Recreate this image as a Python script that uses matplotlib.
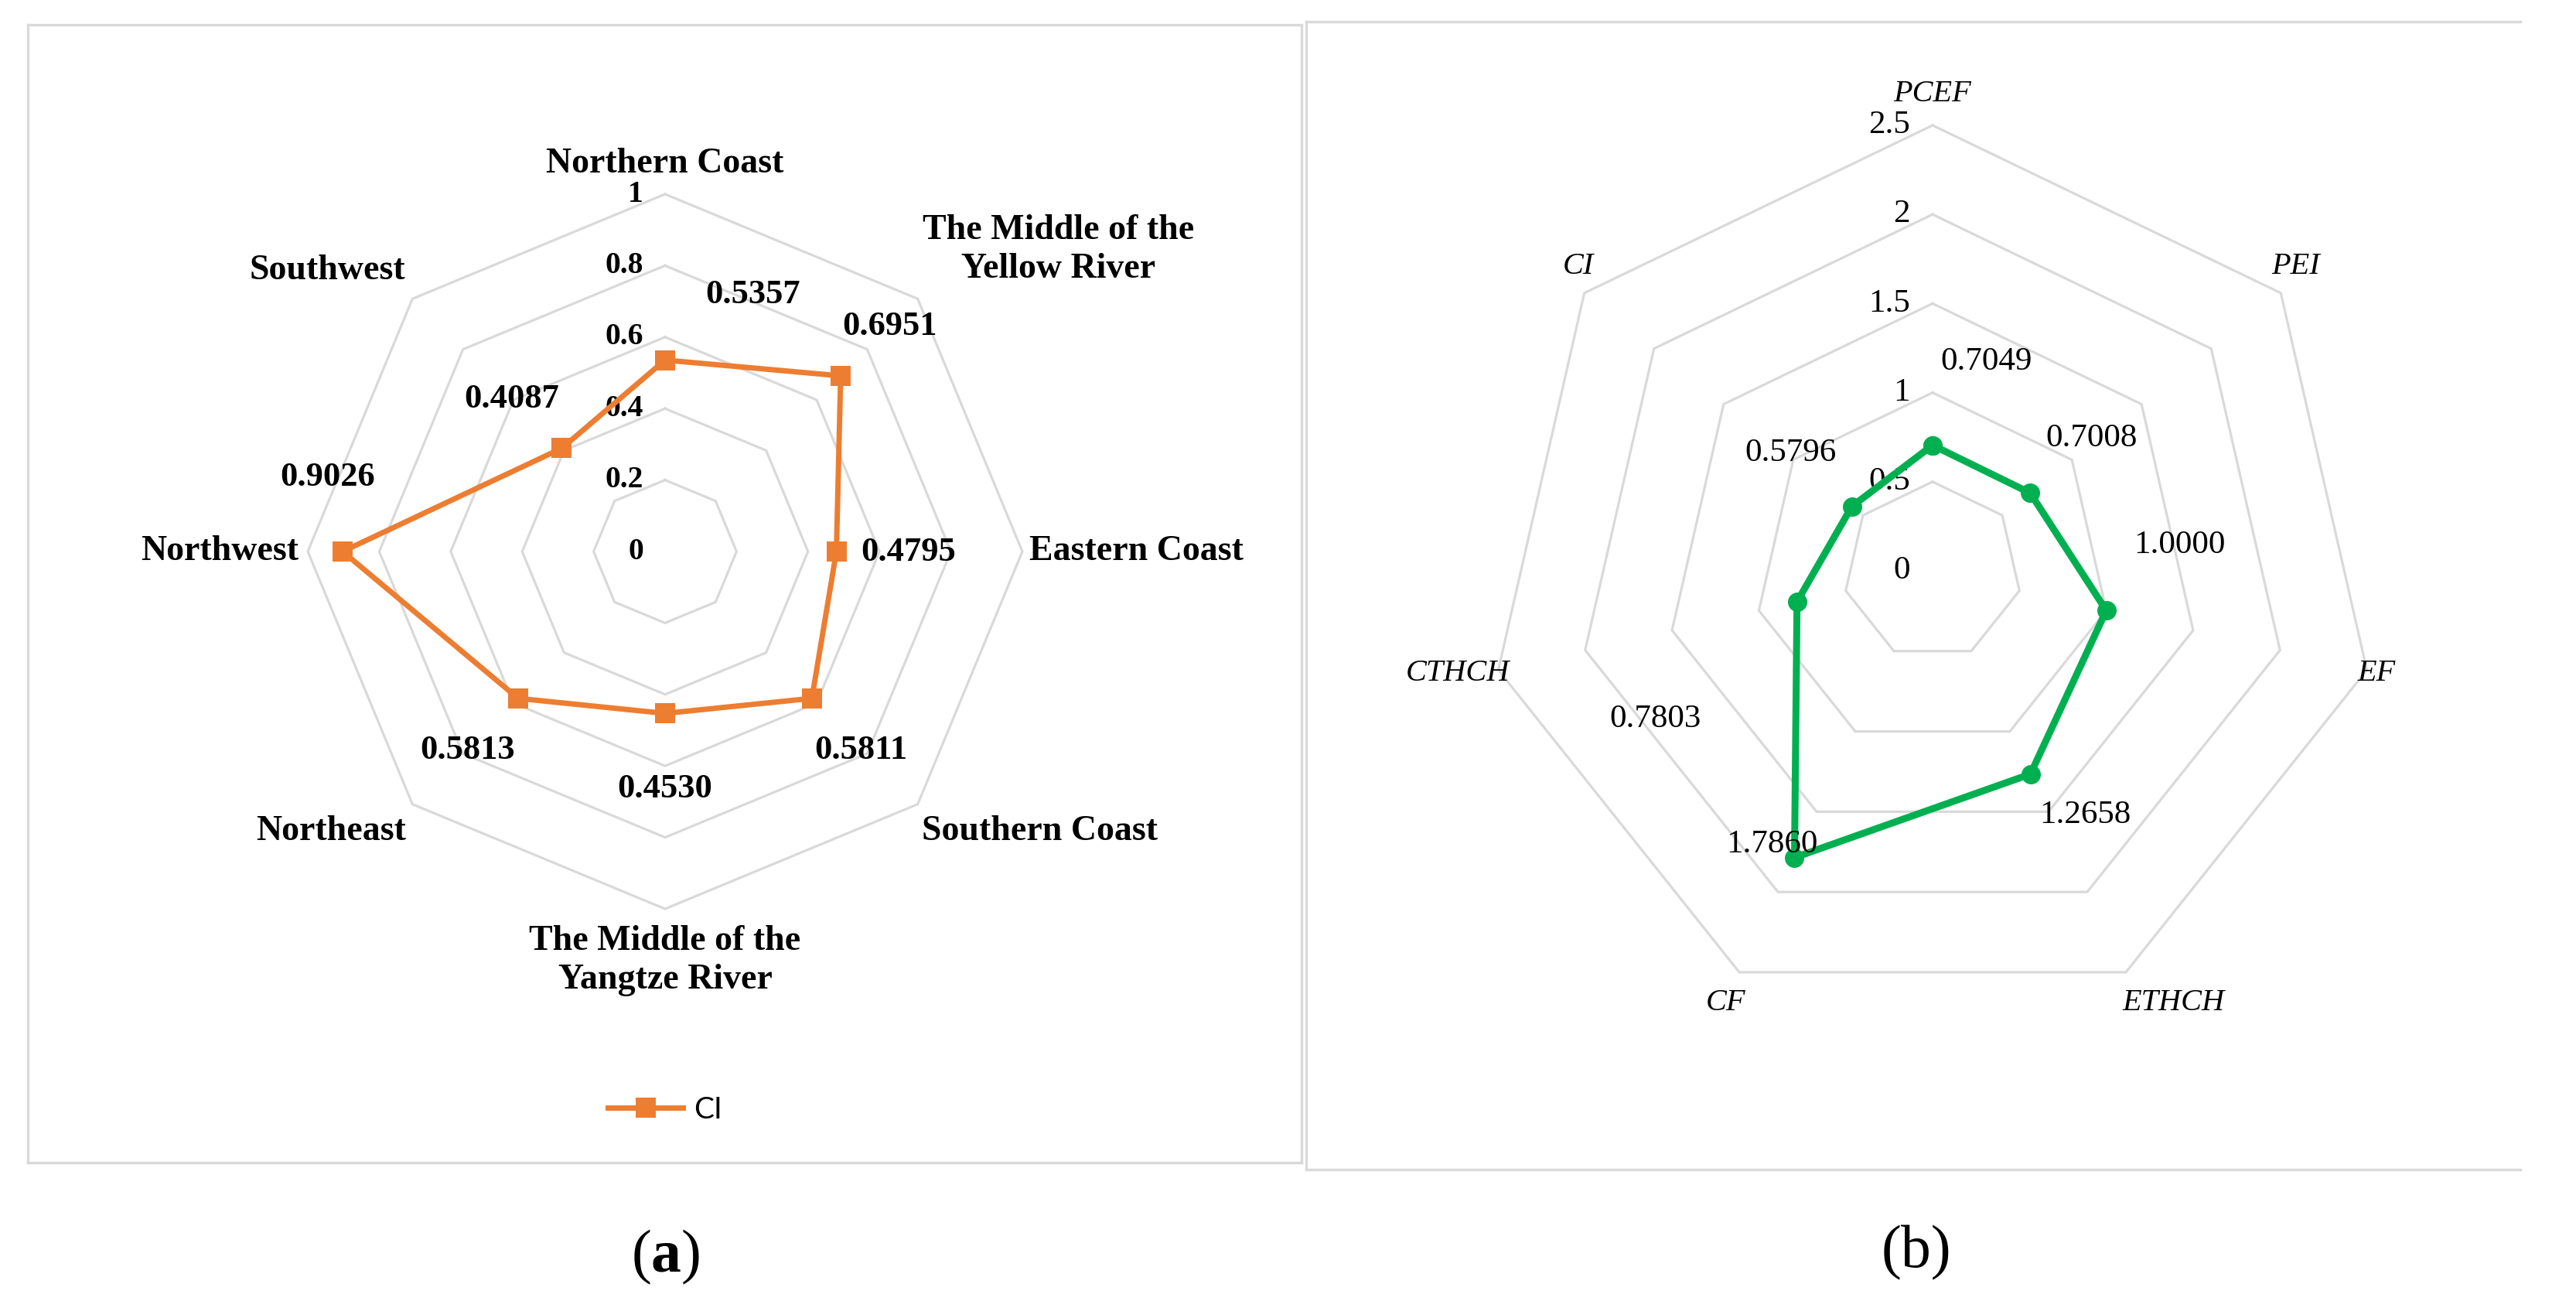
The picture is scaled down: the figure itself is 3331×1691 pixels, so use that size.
import numpy as np
import matplotlib
matplotlib.use('Agg')
import matplotlib.pyplot as plt
from matplotlib.font_manager import FontProperties

# Configuration
plt.rcParams['font.family'] = 'Liberation Serif'
plt.rcParams['mathtext.fontset'] = 'custom'
plt.rcParams['mathtext.rm'] = 'Liberation Serif'
plt.rcParams['mathtext.bf'] = 'Liberation Serif:bold'

W, H = 3331, 1691
GRID = '#D9D9D9'

# Donnees (a)
regions = ['Northern Coast', 'The Middle of the\nYellow River', 'Eastern Coast',
           'Southern Coast', 'The Middle of the\nYangtze River', 'Northeast',
           'Northwest', 'Southwest']
ci_values = [0.5357, 0.6951, 0.4795, 0.5811, 0.4530, 0.5813, 0.9026, 0.4087]
ticks_a = [0, 0.2, 0.4, 0.6, 0.8, 1.0]
tick_labels_a = ['0', '0.2', '0.4', '0.6', '0.8', '1']

# Donnees (b)
factors = ['PCEF', 'PEI', 'EF', 'ETHCH', 'CF', 'CTHCH', 'CI']
factor_values = [0.7049, 0.7008, 1.0000, 1.2658, 1.7860, 0.7803, 0.5796]
ticks_b = [0, 0.5, 1.0, 1.5, 2.0, 2.5]
tick_labels_b = ['0', '0.5', '1', '1.5', '2', '2.5']

# Placement des etiquettes (offset en points / position en unites de donnees)
val_off_a = [(82, 61), (46, 46), (67, -1), (46, -48), (0, -70), (-47, -48), (-14, 69), (-47, 46)]
cat_pos_a = [(0, 1.084), (1.100, 0.844), (1.320, 0.0), (1.048, -0.784),
             (0, -1.145), (-0.935, -0.784), (-1.247, 0.0), (-0.944, 0.786)]
val_off_b = [(50, 78), (57, 51), (68, 61), (51, -38), (-21, 12), (-132, -109), (-57, 50)]
cat_pos_b = [(0, 2.674), (2.040, 1.706), (2.491, -0.577), (1.350, -2.426),
             (-1.159, -2.426), (-2.665, -0.577), (-1.988, 1.706)]


def radar_xy(values):
    n = len(values)
    theta = np.arange(n) * 2 * np.pi / n
    v = np.asarray(values, dtype=float)
    x = v * np.sin(theta)
    y = v * np.cos(theta)
    return np.append(x, x[0]), np.append(y, y[0])


def px_axes(x0, y0, x1, y1):
    ax = fig.add_axes([x0 / W, 1 - y1 / H, (x1 - x0) / W, (y1 - y0) / H])
    ax.set_xticks([])
    ax.set_yticks([])
    for sp in ax.spines.values():
        sp.set_color(GRID)
        sp.set_linewidth(2.4)
    return ax


fig = plt.figure(figsize=(W / 100, H / 100), dpi=100)

# =============================================================================
# (a) CI par region
# =============================================================================
cx, cy, s = 860, 713, 462
axA = px_axes(36, 32, 1683, 1503)
axA.set_xlim((36 - cx) / s, (1683 - cx) / s)
axA.set_ylim((cy - 1503) / s, (cy - 32) / s)

for t in ticks_a[1:]:
    gx, gy = radar_xy([t] * len(regions))
    axA.plot(gx, gy, color=GRID, lw=2.3, zorder=1)
for t, lab in zip(ticks_a, tick_labels_a):
    axA.text(-28 / s, t, lab, ha='right', va='center', fontsize=28.5, fontweight='bold')

xa, ya = radar_xy(ci_values)
lineA, = axA.plot(xa, ya, color='#ED7D31', lw=5, marker='s', markersize=19,
                  markeredgewidth=0, zorder=3)

for i, v in enumerate(ci_values):
    axA.annotate(f'{v:.4f}', (xa[i], ya[i]), xytext=val_off_a[i], textcoords='offset points',
                 ha='center', va='center', fontsize=32, fontweight='bold', zorder=4)
for lab, (px, py) in zip(regions, cat_pos_a):
    axA.text(px, py, lab, ha='center', va='center', fontsize=33, fontweight='bold',
             linespacing=1.25)

axA.legend([lineA], ['CI'], loc='center', bbox_to_anchor=(0, (cy - 1435) / s),
           bbox_transform=axA.transData, frameon=False,
           prop=FontProperties(family='Lato', size=28), handlelength=2.5,
           handletextpad=0.35, numpoints=1)

# =============================================================================
# (b) facteurs
# =============================================================================
cx, cy, s = 2499, 738, 230.4
axB = px_axes(1689, 28, 3259, 1512)
axB.spines['right'].set_visible(False)
axB.set_xlim((1689 - cx) / s, (3259 - cx) / s)
axB.set_ylim((cy - 1512) / s, (cy - 28) / s)

for t in ticks_b[1:]:
    gx, gy = radar_xy([t] * len(factors))
    axB.plot(gx, gy, color=GRID, lw=2.3, zorder=1)
for t, lab in zip(ticks_b, tick_labels_b):
    axB.text(-29 / s, t, lab, ha='right', va='center', fontsize=31)

xb, yb = radar_xy(factor_values)
axB.plot(xb, yb, color='#00B050', lw=6.5, marker='o', markersize=18,
         markeredgewidth=0, zorder=3)

for i, v in enumerate(factor_values):
    axB.annotate(f'{v:.4f}', (xb[i], yb[i]), xytext=val_off_b[i], textcoords='offset points',
                 ha='center', va='center', fontsize=31, zorder=4)
for lab, (px, py) in zip(factors, cat_pos_b):
    axB.text(px, py, lab, ha='center', va='center', fontsize=29, fontstyle='italic')

# Legendes des sous-figures
fig.text(861 / W, 1 - 1625 / H, r'$(\mathbf{a})$', ha='center', va='center', fontsize=56)
fig.text(2478 / W, 1 - 1620 / H, '(b)', ha='center', va='center', fontsize=56)

fig.savefig('out.png', dpi=100)
plt.close()
